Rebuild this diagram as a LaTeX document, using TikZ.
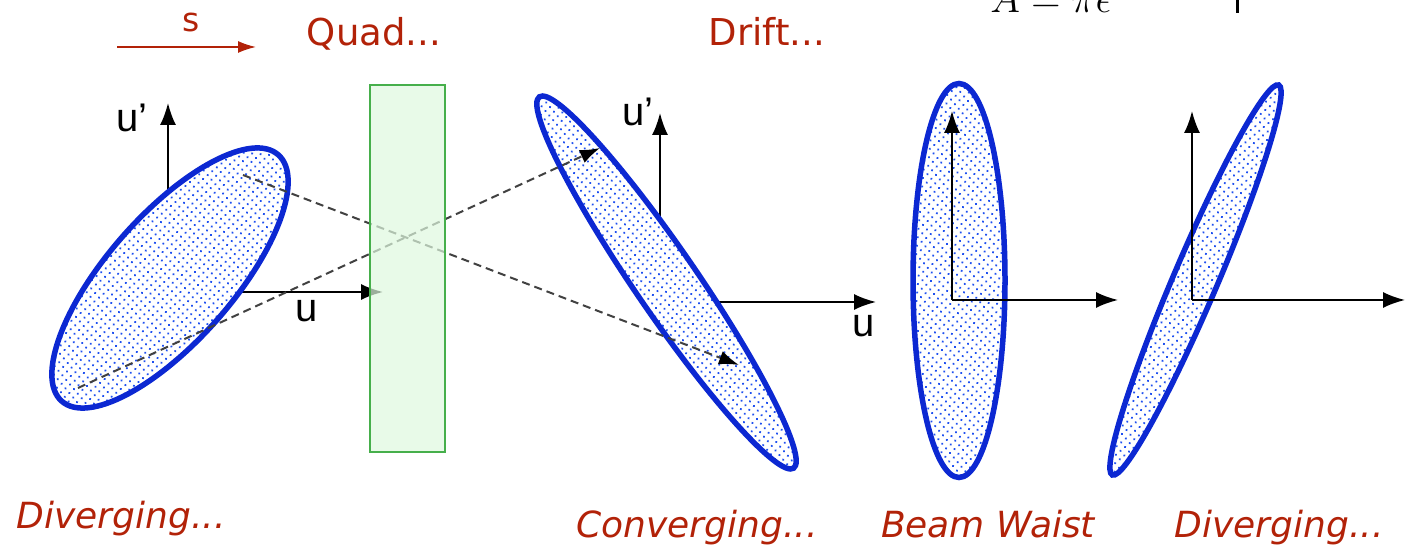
\documentclass[tikz,border=0pt]{standalone}
\usepackage{fontspec}
\setmainfont{DejaVu Sans}
\newfontfamily\axfont{Liberation Sans}
\usetikzlibrary{arrows.meta,patterns.meta}
\definecolor{lblred}{RGB}{178,34,8}
\definecolor{ellblue}{RGB}{12,40,210}
\definecolor{dotblue}{RGB}{30,80,240}
\definecolor{quadfill}{RGB}{222,248,222}
\definecolor{quadline}{RGB}{70,175,75}
\definecolor{dashgray}{RGB}{65,65,65}
\begin{document}
\begin{tikzpicture}[x=1pt,y=1pt,
  ellip/.style={draw=ellblue, line width=5.5pt, preaction={fill=white},
    pattern={Dots[distance=6pt,radius=1.25pt,angle=40]}, pattern color=dotblue},
  axisarrow/.style={black, line width=1.8pt, -{Latex[length=22pt,width=16pt]}},
  traj/.style={dashgray, line width=2pt, dash pattern=on 8pt off 5pt,
    -{Latex[length=20pt,width=14pt,color=black]}},
  quadbox/.style={draw=quadline, line width=2pt, fill=quadfill, fill opacity=0.7,
    minimum width=75pt, minimum height=367pt, inner sep=0pt},
  redlbl/.style={text=lblred, font=\fontsize{37}{44}\selectfont, inner sep=0pt},
  redital/.style={text=lblred, font=\fontsize{36}{44}\selectfont\itshape, inner sep=0pt},
  axlbl/.style={font=\axfont\fontsize{40}{48}\selectfont, inner sep=0pt}]
\clip (0,0) rectangle (1405,553);
\useasboundingbox (0,0) rectangle (1405,553);

% coordinates
\coordinate (sA) at (117,506); \coordinate (sB) at (256,506);
\coordinate (o1) at (168,261); \coordinate (v1) at (168,450); \coordinate (h1) at (383,261);
\coordinate (o2) at (660,251); \coordinate (v2) at (660,440); \coordinate (h2) at (876,251);
\coordinate (o3) at (952,253); \coordinate (v3) at (952,442); \coordinate (h3) at (1118,253);
\coordinate (o4) at (1192,253); \coordinate (v4) at (1192,442); \coordinate (h4) at (1405,253);
\coordinate (ta1) at (243,378); \coordinate (ta2) at (739,188);
\coordinate (tb1) at (78,165);  \coordinate (tb2) at (600,405);
\coordinate (bar1) at (1237,540); \coordinate (bar2) at (1237,556);

% top labels
\draw[lblred, line width=1.6pt, -{Latex[length=18pt,width=12pt]}] (sA) -- (sB);
\node[redlbl, font=\fontsize{33}{40}\selectfont, anchor=base] (slbl) at (191,521) {s};
\node[redlbl, anchor=base] (quadlbl) at (374,507) {Quad...};
\node[redlbl, anchor=base] (driftlbl) at (767,507) {Drift...};
\node[anchor=base west, inner sep=0pt, scale=1.95, font=\huge] (formula) at (990,540) {$A=\pi\epsilon$};
\draw[black, line width=3pt] (bar1) -- (bar2);

% axes behind first two ellipses
\draw[axisarrow] (o1) -- (v1);
\draw[axisarrow] (o1) -- (h1);
\draw[axisarrow] (o2) -- (v2);
\draw[axisarrow] (o2) -- (h2);

% ellipses
\path[ellip, shift={(170,275)}, rotate=48.7] (0,0) ellipse [x radius=164, y radius=63];
\path[ellip, shift={(666.5,270.5)}, rotate=-55.6] (0,0) ellipse [x radius=225, y radius=31];
\path[ellip, shift={(959,272.5)}] (0,0) ellipse [x radius=46, y radius=197];
\path[ellip, shift={(1195.5,273)}, rotate=66.9] (0,0) ellipse [x radius=212, y radius=22];

% axes on top of last two ellipses
\draw[axisarrow] (o3) -- (v3);
\draw[axisarrow] (o3) -- (h3);
\draw[axisarrow] (o4) -- (v4);
\draw[axisarrow] (o4) -- (h4);

% axis labels
\node[axlbl] (up1) at (132,435) {u’};
\node[axlbl] (u1) at (307,242) {u};
\node[axlbl] (up2) at (638,441) {u’};
\node[axlbl] (u2) at (864,227) {u};

% trajectories
\draw[traj] (ta1) -- (ta2);
\draw[traj] (tb1) -- (tb2);

% quadrupole
\node[quadbox] (quad) at (407.5,284.5) {};

% bottom labels
\node[redital, anchor=base] (div1) at (121,24) {Diverging...};
\node[redital, anchor=base] (conv) at (697,15) {Converging...};
\node[redital, anchor=base] (waist) at (988,15) {Beam Waist};
\node[redital, anchor=base] (div2) at (1279,15) {Diverging...};
\end{tikzpicture}
\end{document}
